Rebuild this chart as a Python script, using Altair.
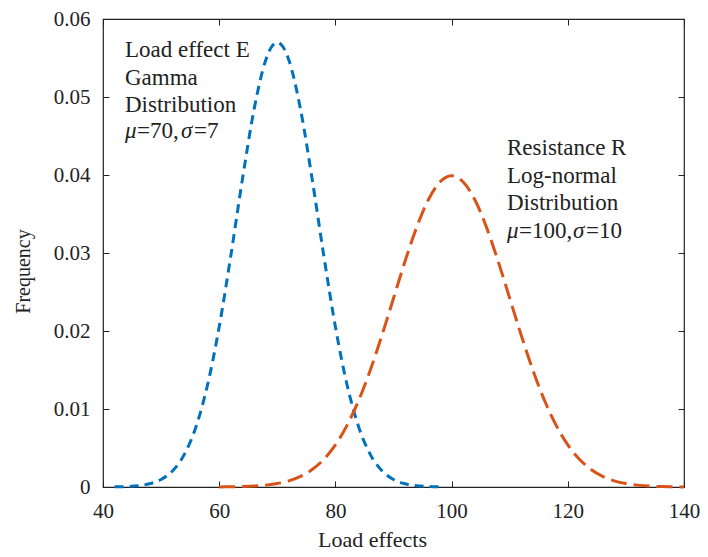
import altair as alt
import pandas as pd

# Load effect E (Gamma, mu=70, sigma=7)
load_x = [42, 44, 46, 48, 50, 52, 54, 56, 58, 60, 62, 64, 66, 68, 69, 70, 71, 72,
          74, 76, 78, 80, 82, 84, 86, 88, 90, 92, 94, 96, 98]
load_y = [0.00002, 0.00006, 0.00016, 0.00041, 0.00096, 0.00209, 0.00418, 0.00771,
          0.01311, 0.02054, 0.02966, 0.03947, 0.04841, 0.05471, 0.05641, 0.05699,
          0.05641, 0.05471, 0.04841, 0.03947, 0.02966, 0.02054, 0.01311, 0.00771,
          0.00418, 0.00209, 0.00096, 0.00041, 0.00016, 0.00006, 0.00002]

# Resistance R (Log-normal, mu=100, sigma=10)
res_x = [60, 62, 64, 66, 68, 70, 72, 74, 76, 78, 80, 82, 84, 86, 88, 90, 92, 94, 96,
         98, 99, 100, 101, 102, 104, 106, 108, 110, 112, 114, 116, 118, 120, 122,
         124, 126, 128, 130, 132, 134, 136, 138, 140]
res_y = [0.00001, 0.00003, 0.00006, 0.00012, 0.00024, 0.00044, 0.00079, 0.00136,
         0.00224, 0.00355, 0.00540, 0.00790, 0.01109, 0.01497, 0.01942, 0.02420,
         0.02897, 0.03332, 0.03683, 0.03910, 0.03969, 0.03989, 0.03969, 0.03910,
         0.03683, 0.03332, 0.02897, 0.02420, 0.01942, 0.01497, 0.01109, 0.00790,
         0.00540, 0.00355, 0.00224, 0.00136, 0.00079, 0.00044, 0.00024, 0.00012,
         0.00006, 0.00003, 0.00001]

x_ticks = [40, 60, 80, 100, 120, 140]
y_ticks = [0, 0.01, 0.02, 0.03, 0.04, 0.05, 0.06]

left_lines = ["Load effect E", "Gamma", "Distribution"]
left_params = ["μ", "=70,", "σ", "=7"]
right_lines = ["Resistance R", "Log-normal", "Distribution"]
right_params = ["μ", "=100,", "σ", "=10"]

FONT = "Liberation Serif"
INK = "#222222"
BLUE = "#0072BD"
ORANGE = "#D95319"

blue_df = pd.DataFrame({"x": load_x, "y": load_y})
orange_df = pd.DataFrame({"x": res_x, "y": res_y})

xs = alt.Scale(domain=[40, 140], nice=False, zero=False)
ys = alt.Scale(domain=[0, 0.06], nice=False)

common = dict(domain=False, grid=False, tickSize=6, offset=-6, tickColor=INK,
              tickWidth=1, labelFont=FONT, labelFontSize=21, labelColor=INK,
              labelFlush=False, titleFont=FONT, titleColor=INK,
              titleFontWeight="normal")

blue_line = alt.Chart(blue_df).mark_line(
    color=BLUE, strokeWidth=3, strokeDash=[9, 6], interpolate="monotone"
).encode(
    x=alt.X("x:Q", scale=xs, axis=alt.Axis(
        orient="bottom", values=x_ticks, labelPadding=13, title="Load effects",
        titleFontSize=22, titleX=269, titlePadding=8, **common)),
    y=alt.Y("y:Q", scale=ys, axis=alt.Axis(
        orient="left", values=y_ticks, format="~g", labelPadding=13,
        title="Frequency", titleFontSize=20, titleY=252, titlePadding=20, **common)),
)

orange_line = alt.Chart(orange_df).mark_line(
    color=ORANGE, strokeWidth=3, strokeDash=[16, 7], interpolate="monotone"
).encode(
    x=alt.X("x:Q", scale=xs, axis=alt.Axis(
        orient="top", values=x_ticks, labels=False, title=None, **common)),
    y=alt.Y("y:Q", scale=ys, axis=alt.Axis(
        orient="right", values=y_ticks, labels=False, title=None, **common)),
)

dummy = pd.DataFrame({"d": [0]})


def label(text, x, y, italic=False):
    return alt.Chart(dummy).mark_text(
        text=text, align="left", baseline="alphabetic", font=FONT, fontSize=23,
        fontStyle="italic" if italic else "normal", color=INK
    ).encode(x=alt.value(x), y=alt.value(y))


texts = []
for i, t in enumerate(left_lines):
    texts.append(label(t, 22, 38 + 27.5 * i))
for t, xp, it in zip(left_params, [22, 34, 78, 91], [True, False, True, False]):
    texts.append(label(t, xp, 119, it))
for i, t in enumerate(right_lines):
    texts.append(label(t, 404, 136 + 27.5 * i))
for t, xp, it in zip(right_params, [404, 416, 470, 483], [True, False, True, False]):
    texts.append(label(t, xp, 219, it))

chart = alt.layer(blue_line, orange_line, *texts).resolve_axis(
    x="independent", y="independent"
).properties(
    width=581, height=468,
    padding={"left": 95, "top": 11, "right": 16, "bottom": 70},
    autosize=alt.AutoSizeParams(type="none"),
    background="white",
).configure_view(stroke=INK, strokeWidth=1.2)

chart.save("out.html", embed_options={"renderer": "svg", "actions": False})
